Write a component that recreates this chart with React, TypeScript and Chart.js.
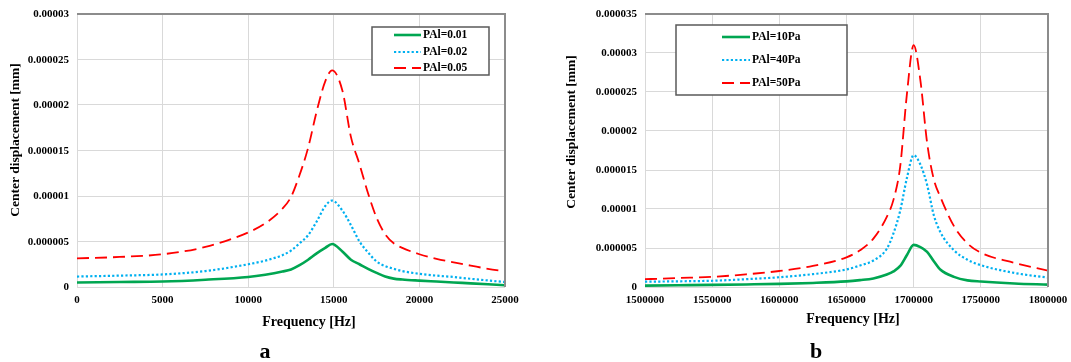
import React, { useEffect, useRef } from "react";
import { Chart, registerables } from "chart.js";
Chart.register(...registerables);

// ---------- Chart (a) data ----------
const freqA = [0, 2500, 5000, 7500, 10000, 11000, 12000, 12500, 13000, 13500, 14000, 14500, 14900, 15500, 16000, 16500, 17000, 17500, 18000, 18500, 19000, 20000, 21000, 22000, 23000, 24000, 25000];
const pal001 = [0.5e-6, 0.55e-6, 0.6e-6, 0.8e-6, 1.1e-6, 1.35e-6, 1.7e-6, 1.93e-6, 2.4e-6, 3.0e-6, 3.7e-6, 4.3e-6, 4.72e-6, 3.9e-6, 3.0e-6, 2.5e-6, 2.0e-6, 1.55e-6, 1.15e-6, 0.92e-6, 0.82e-6, 0.7e-6, 0.6e-6, 0.5e-6, 0.4e-6, 0.3e-6, 0.2e-6];
const pal002 = [1.15e-6, 1.25e-6, 1.38e-6, 1.75e-6, 2.5e-6, 2.9e-6, 3.5e-6, 4.0e-6, 4.8e-6, 5.7e-6, 7.2e-6, 8.9e-6, 9.5e-6, 8.4e-6, 6.8e-6, 5.0e-6, 3.8e-6, 2.8e-6, 2.3e-6, 2.0e-6, 1.75e-6, 1.45e-6, 1.25e-6, 1.1e-6, 0.9e-6, 0.72e-6, 0.55e-6];
const pal005 = [3.15e-6, 3.3e-6, 3.6e-6, 4.4e-6, 6.0e-6, 7.0e-6, 8.6e-6, 9.9e-6, 12.3e-6, 15.3e-6, 19.3e-6, 22.6e-6, 23.8e-6, 21.6e-6, 16.5e-6, 13.5e-6, 10.3e-6, 7.6e-6, 5.8e-6, 4.8e-6, 4.3e-6, 3.6e-6, 3.1e-6, 2.7e-6, 2.35e-6, 2.0e-6, 1.74e-6];
const namesA = ["PAl=0.01", "PAl=0.02", "PAl=0.05"];
const xTickValsA = [0, 5000, 10000, 15000, 20000, 25000];
const xTickLabelsA = ["0", "5000", "10000", "15000", "20000", "25000"];
const yTickValsA = [0, 0.000005, 0.00001, 0.000015, 0.00002, 0.000025, 0.00003];
const yTickLabelsA = ["0", "0.000005", "0.00001", "0.000015", "0.00002", "0.000025", "0.00003"];

// ---------- Chart (b) data ----------
const freqB = [1500000, 1525000, 1550000, 1575000, 1600000, 1625000, 1650000, 1660000, 1670000, 1680000, 1685000, 1690000, 1695000, 1700000, 1705000, 1710000, 1715000, 1720000, 1730000, 1740000, 1750000, 1775000, 1800000];
const pal10 = [0.17e-6, 0.22e-6, 0.27e-6, 0.33e-6, 0.4e-6, 0.52e-6, 0.72e-6, 0.88e-6, 1.1e-6, 1.6e-6, 2.0e-6, 2.7e-6, 4.1e-6, 5.4e-6, 5.1e-6, 4.5e-6, 3.3e-6, 2.2e-6, 1.3e-6, 0.85e-6, 0.7e-6, 0.45e-6, 0.3e-6];
const pal40 = [0.68e-6, 0.73e-6, 0.8e-6, 1.0e-6, 1.25e-6, 1.65e-6, 2.25e-6, 2.75e-6, 3.4e-6, 4.9e-6, 6.9e-6, 9.8e-6, 14.0e-6, 16.9e-6, 15.7e-6, 13.1e-6, 9.2e-6, 7.0e-6, 4.7e-6, 3.5e-6, 2.8e-6, 1.8e-6, 1.2e-6];
const pal50 = [1.0e-6, 1.15e-6, 1.3e-6, 1.62e-6, 2.05e-6, 2.7e-6, 3.8e-6, 4.7e-6, 6.2e-6, 9.0e-6, 11.2e-6, 15.5e-6, 24.8e-6, 31.0e-6, 26.5e-6, 18.5e-6, 13.8e-6, 11.5e-6, 7.8e-6, 5.6e-6, 4.4e-6, 3.1e-6, 2.1e-6];
const namesB = ["PAl=10Pa", "PAl=40Pa", "PAl=50Pa"];
const xTickValsB = [1500000, 1550000, 1600000, 1650000, 1700000, 1750000, 1800000];
const xTickLabelsB = ["1500000", "1550000", "1600000", "1650000", "1700000", "1750000", "1800000"];
const yTickValsB = [0, 0.000005, 0.00001, 0.000015, 0.00002, 0.000025, 0.00003, 0.000035];
const yTickLabelsB = ["0", "0.000005", "0.00001", "0.000015", "0.00002", "0.000025", "0.00003", "0.000035"];

const xTitle = "Frequency [Hz]";
const yTitle = "Center displacement [mm]";

const FONT = '"Liberation Serif", "Times New Roman", serif';
const H = 362;
const PLOT_TOP = 14;
const PLOT_BOTTOM = 287;

const styles = [
  { color: "#00A651", width: 2.6, dash: [] as number[] },
  { color: "#00B0F0", width: 2.2, dash: [2.2, 2.2] },
  { color: "#FF0000", width: 1.8, dash: [12, 6] },
];

type Cfg = {
  left: number;
  width: number;
  plotLeft: number;
  plotRight: number;
  freq: number[];
  series: number[][];
  names: string[];
  xTickVals: number[];
  xTickLabels: string[];
  yTickVals: number[];
  yTickLabels: string[];
  legend: { x: number; y: number; w: number; h: number; l0: number; l1: number; tx: number; rows: number[] };
  xTitleX: number;
  xTitleBase: number;
  yTitleX: number;
  yTitleY: number;
  letter: string;
  letterX: number;
  letterBase: number;
};

const cfgA: Cfg = {
  left: 0,
  width: 530,
  plotLeft: 77,
  plotRight: 505,
  freq: freqA,
  series: [pal001, pal002, pal005],
  names: namesA,
  xTickVals: xTickValsA,
  xTickLabels: xTickLabelsA,
  yTickVals: yTickValsA,
  yTickLabels: yTickLabelsA,
  legend: { x: 372, y: 27, w: 117, h: 48, l0: 394, l1: 421, tx: 423, rows: [35, 52, 68] },
  xTitleX: 309,
  xTitleBase: 326,
  yTitleX: 16,
  yTitleY: 140,
  letter: "a",
  letterX: 265,
  letterBase: 358,
};

const cfgB: Cfg = {
  left: 535,
  width: 536,
  plotLeft: 110,
  plotRight: 513,
  freq: freqB,
  series: [pal10, pal40, pal50],
  names: namesB,
  xTickVals: xTickValsB,
  xTickLabels: xTickLabelsB,
  yTickVals: yTickValsB,
  yTickLabels: yTickLabelsB,
  legend: { x: 141, y: 25, w: 171, h: 70, l0: 187, l1: 215, tx: 217, rows: [37, 60, 83] },
  xTitleX: 318,
  xTitleBase: 323,
  yTitleX: 37,
  yTitleY: 132,
  letter: "b",
  letterX: 281,
  letterBase: 358,
};

function makeChart(canvas: HTMLCanvasElement, c: Cfg) {
  const decor = {
    id: "decor",
    afterDraw(chart: any) {
      const ctx = chart.ctx as CanvasRenderingContext2D;
      const area = chart.chartArea;
      const xs = chart.scales.x;
      const ys = chart.scales.y;
      ctx.save();
      // top & right frame
      ctx.strokeStyle = "#8c8c8c";
      ctx.lineWidth = 2;
      ctx.setLineDash([]);
      ctx.beginPath();
      ctx.moveTo(area.left, area.top);
      ctx.lineTo(area.right, area.top);
      ctx.lineTo(area.right, area.bottom);
      ctx.stroke();
      // tick labels
      ctx.fillStyle = "#000";
      ctx.font = `bold 11px ${FONT}`;
      ctx.textAlign = "center";
      ctx.textBaseline = "alphabetic";
      c.xTickVals.forEach((v, i) => {
        ctx.fillText(c.xTickLabels[i], xs.getPixelForValue(v), 303);
      });
      ctx.textAlign = "right";
      ctx.textBaseline = "middle";
      c.yTickVals.forEach((v, i) => {
        ctx.fillText(c.yTickLabels[i], area.left - 8, ys.getPixelForValue(v) + 0.5);
      });
      // axis titles
      ctx.font = `bold 14px ${FONT}`;
      ctx.textAlign = "center";
      ctx.textBaseline = "alphabetic";
      ctx.fillText(xTitle, c.xTitleX, c.xTitleBase);
      ctx.save();
      ctx.translate(c.yTitleX, c.yTitleY);
      ctx.rotate(-Math.PI / 2);
      ctx.font = `bold 13.5px ${FONT}`;
      ctx.textBaseline = "middle";
      ctx.fillText(yTitle, 0, 0);
      ctx.restore();
      // panel letter
      ctx.font = `bold 22px ${FONT}`;
      ctx.textAlign = "center";
      ctx.fillText(c.letter, c.letterX, c.letterBase);
      // legend
      const L = c.legend;
      ctx.fillStyle = "#fff";
      ctx.fillRect(L.x, L.y, L.w, L.h);
      ctx.strokeStyle = "#595959";
      ctx.lineWidth = 1.5;
      ctx.strokeRect(L.x, L.y, L.w, L.h);
      c.names.forEach((n, i) => {
        const ds = chart.data.datasets[i];
        ctx.strokeStyle = ds.borderColor;
        ctx.lineWidth = ds.borderWidth;
        ctx.setLineDash(ds.borderDash || []);
        ctx.beginPath();
        ctx.moveTo(L.l0, L.rows[i]);
        ctx.lineTo(L.l1, L.rows[i]);
        ctx.stroke();
        ctx.setLineDash([]);
        ctx.fillStyle = "#000";
        ctx.font = `bold 11.5px ${FONT}`;
        ctx.textAlign = "left";
        ctx.textBaseline = "middle";
        ctx.fillText(n, L.tx, L.rows[i] + 0.5);
      });
      ctx.restore();
    },
  };

  const xMin = c.xTickVals[0];
  const xMax = c.xTickVals[c.xTickVals.length - 1];
  const yMax = c.yTickVals[c.yTickVals.length - 1];

  return new Chart(canvas, {
    type: "line",
    data: {
      datasets: c.series.map((s, i) => ({
        label: c.names[i],
        data: c.freq.map((f, j) => ({ x: f, y: s[j] })),
        borderColor: styles[i].color,
        borderWidth: styles[i].width,
        borderDash: styles[i].dash,
        borderCapStyle: "butt",
        pointRadius: 0,
        fill: false,
        cubicInterpolationMode: "monotone",
      })),
    },
    options: {
      animation: false,
      responsive: false,
      devicePixelRatio: 1,
      layout: { padding: { top: PLOT_TOP, right: c.width - c.plotRight, left: 0, bottom: 0 } },
      plugins: { legend: { display: false }, tooltip: { enabled: false } },
      scales: {
        x: {
          type: "linear",
          min: xMin,
          max: xMax,
          ticks: { display: false },
          grid: { color: "#d9d9d9", lineWidth: 1, drawTicks: false },
          border: { display: false },
          afterBuildTicks: (s: any) => {
            s.ticks = c.xTickVals.map((v) => ({ value: v }));
          },
          afterFit: (s: any) => {
            s.height = H - PLOT_BOTTOM;
          },
        },
        y: {
          type: "linear",
          min: 0,
          max: yMax,
          ticks: { display: false },
          grid: { color: "#d9d9d9", lineWidth: 1, drawTicks: false },
          border: { display: false },
          afterBuildTicks: (s: any) => {
            s.ticks = c.yTickVals.map((v) => ({ value: v }));
          },
          afterFit: (s: any) => {
            s.width = c.plotLeft;
          },
        },
      },
    } as any,
    plugins: [decor],
  });
}

function Panel({ c }: { c: Cfg }) {
  const ref = useRef<HTMLCanvasElement>(null);
  useEffect(() => {
    if (!ref.current) return;
    const ch = makeChart(ref.current, c);
    return () => ch.destroy();
  }, [c]);
  return (
    <canvas
      ref={ref}
      width={c.width}
      height={H}
      style={{ position: "absolute", left: c.left, top: 0, width: c.width, height: H }}
    />
  );
}

export default function App() {
  return (
    <div style={{ position: "absolute", left: 0, top: 0, width: 1071, height: H, background: "#fff", overflow: "hidden" }}>
      <Panel c={cfgA} />
      <Panel c={cfgB} />
    </div>
  );
}
